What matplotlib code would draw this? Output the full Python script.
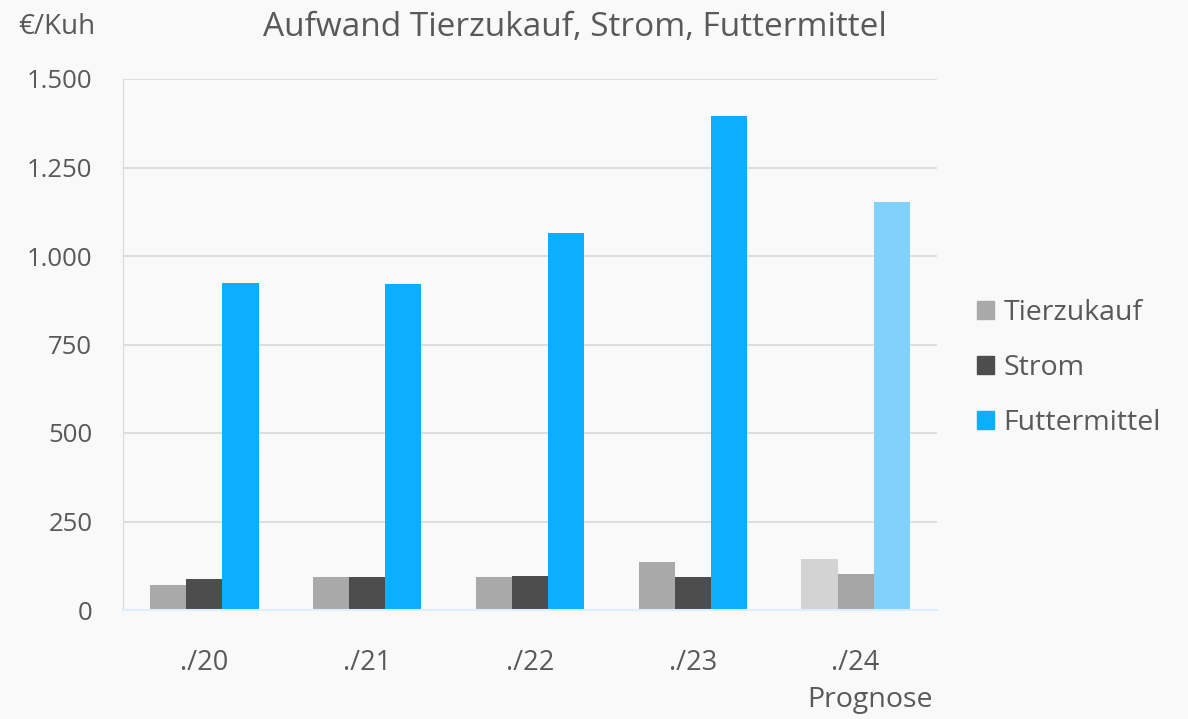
import numpy as np
import matplotlib.pyplot as plt
from matplotlib.ticker import FuncFormatter
from matplotlib.patches import Patch

plt.rcParams["font.family"] = ["Open Sans", "DejaVu Sans"]
TEXT = "#595959"

# data (EUR per cow)
years = ["./20", "./21", "./22", "./23", "./24"]
tierzukauf = [70, 92, 93, 137, 144]
strom = [87, 94, 97, 94, 103]
futtermittel = [924, 921, 1065, 1396, 1153]

# last year is a forecast -> paler colours
col_tier = ["#a9a9a9"] * 4 + ["#d3d3d3"]
col_strom = ["#4d4d4d"] * 4 + ["#a5a5a5"]
col_futter = ["#0daeff"] * 4 + ["#80d1fb"]

fig = plt.figure(figsize=(11.88, 7.19), dpi=100, facecolor="#f9f9f9")
ax = fig.add_axes([123 / 1188, 1 - 610 / 719, (937 - 123) / 1188, (610 - 79) / 719])
ax.set_facecolor("#f9f9f9")

x = np.arange(len(years))
w = 0.222
ax.bar(x - w, tierzukauf, w, color=col_tier, zorder=3)
ax.bar(x, strom, w, color=col_strom, zorder=3)
ax.bar(x + w, futtermittel, w, color=col_futter, zorder=3)

ax.set_xlim(-0.5, len(years) - 0.5)
ax.set_ylim(0, 1500)
ax.set_yticks(np.arange(0, 1501, 250))
ax.yaxis.set_major_formatter(FuncFormatter(lambda v, p: f"{int(v):,}".replace(",", ".")))
ax.set_xticks(x)
ax.set_xticklabels(years)
ax.tick_params(axis="both", length=0, labelcolor=TEXT)
ax.tick_params(axis="y", pad=22, labelsize=18.5)
ax.tick_params(axis="x", pad=28, labelsize=19.5)
ax.grid(axis="y", color="#d9d9d9", linewidth=1.2, zorder=0)

for s in ["top", "right"]:
    ax.spines[s].set_visible(False)
ax.spines["left"].set_color("#d9d9d9")
ax.spines["bottom"].set_color("#dcefff")
ax.spines["bottom"].set_linewidth(1.5)
ax.spines["bottom"].set_zorder(4)

fig.text(575 / 1188, 1 - 27 / 719, "Aufwand Tierzukauf, Strom, Futtermittel",
         ha="center", va="center", fontsize=24, color=TEXT)
fig.text(18 / 1188, 1 - 27 / 719, "€/Kuh", ha="left", va="center", fontsize=20, color=TEXT)
fig.text(870 / 1188, 1 - 700 / 719, "Prognose", ha="center", va="center", fontsize=20.5, color=TEXT)

handles = [Patch(color="#a9a9a9"), Patch(color="#4d4d4d"), Patch(color="#0daeff")]
leg = fig.legend(handles, ["Tierzukauf", "Strom", "Futtermittel"],
                 loc="center left", bbox_to_anchor=(951 / 1188, 1 - 368 / 719),
                 frameon=False, fontsize=20.5, handlelength=0.6, handleheight=0.6,
                 handletextpad=0.35, labelspacing=0.95, labelcolor=TEXT)

fig.savefig("out.png", dpi=100, facecolor=fig.get_facecolor())
